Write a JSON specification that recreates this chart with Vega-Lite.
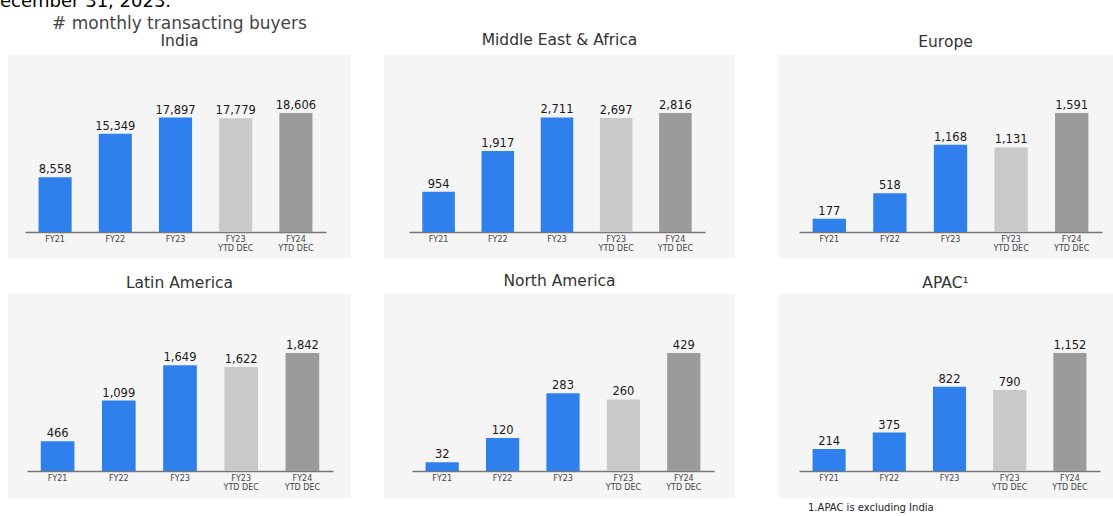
{
  "$schema": "https://vega.github.io/schema/vega-lite/v6.json",
  "background": "white",
  "padding": {"left": 0, "top": -8, "right": 0, "bottom": 0},
  "title": {"text": "ecember 31, 2023.", "anchor": "start", "dx": -8, "fontSize": 18, "fontWeight": "normal", "font": "DejaVu Sans", "color": "#000000", "offset": 4, "frame": "bounds"},
  "datasets": {
    "buyers": [
      {"region": "India", "period": "FY21", "buyers": 8558},
      {"region": "India", "period": "FY22", "buyers": 15349},
      {"region": "India", "period": "FY23", "buyers": 17897},
      {"region": "India", "period": "FY23 YTD DEC", "buyers": 17779},
      {"region": "India", "period": "FY24 YTD DEC", "buyers": 18606},
      {"region": "Middle East & Africa", "period": "FY21", "buyers": 954},
      {"region": "Middle East & Africa", "period": "FY22", "buyers": 1917},
      {"region": "Middle East & Africa", "period": "FY23", "buyers": 2711},
      {"region": "Middle East & Africa", "period": "FY23 YTD DEC", "buyers": 2697},
      {"region": "Middle East & Africa", "period": "FY24 YTD DEC", "buyers": 2816},
      {"region": "Europe", "period": "FY21", "buyers": 177},
      {"region": "Europe", "period": "FY22", "buyers": 518},
      {"region": "Europe", "period": "FY23", "buyers": 1168},
      {"region": "Europe", "period": "FY23 YTD DEC", "buyers": 1131},
      {"region": "Europe", "period": "FY24 YTD DEC", "buyers": 1591},
      {"region": "Latin America", "period": "FY21", "buyers": 466},
      {"region": "Latin America", "period": "FY22", "buyers": 1099},
      {"region": "Latin America", "period": "FY23", "buyers": 1649},
      {"region": "Latin America", "period": "FY23 YTD DEC", "buyers": 1622},
      {"region": "Latin America", "period": "FY24 YTD DEC", "buyers": 1842},
      {"region": "North America", "period": "FY21", "buyers": 32},
      {"region": "North America", "period": "FY22", "buyers": 120},
      {"region": "North America", "period": "FY23", "buyers": 283},
      {"region": "North America", "period": "FY23 YTD DEC", "buyers": 260},
      {"region": "North America", "period": "FY24 YTD DEC", "buyers": 429},
      {"region": "APAC", "period": "FY21", "buyers": 214},
      {"region": "APAC", "period": "FY22", "buyers": 375},
      {"region": "APAC", "period": "FY23", "buyers": 822},
      {"region": "APAC", "period": "FY23 YTD DEC", "buyers": 790},
      {"region": "APAC", "period": "FY24 YTD DEC", "buyers": 1152}
    ]
  },
  "spacing": 15,
  "vconcat": [
    {
      "bounds": "flush",
      "spacing": 33,
      "hconcat": [
        {
          "width": 343, "height": 203,
          "title": {"text": "# monthly transacting buyers", "subtitle": "India", "fontSize": 17, "color": "#444444", "subtitleFont": "DejaVu Sans", "subtitleFontSize": 15.5, "subtitleColor": "#333333", "subtitlePadding": 1, "offset": 5},
          "data": {"name": "buyers"},
          "transform": [{"filter": "datum.region === 'India'"}],
          "encoding": {
            "x": {"field": "period", "type": "nominal", "sort": ["FY21", "FY22", "FY23", "FY23 YTD DEC", "FY24 YTD DEC"], "scale": {"range": [17, 318], "paddingInner": 0.45, "paddingOuter": 0.225}, "axis": {"offset": -26}},
            "y": {"field": "buyers", "type": "quantitative", "scale": {"domain": [-4065, 27674], "nice": false, "zero": false}, "axis": null}
          },
          "layer": [
            {"mark": {"type": "bar"}, "encoding": {"y2": {"datum": 0}, "color": {"field": "period", "type": "nominal", "scale": {"domain": ["FY21", "FY22", "FY23", "FY23 YTD DEC", "FY24 YTD DEC"], "range": ["#2f80ed", "#2f80ed", "#2f80ed", "#c9c9c9", "#9b9b9b"]}, "legend": null}}},
            {"mark": {"type": "text", "baseline": "bottom", "dy": -2}, "encoding": {"text": {"field": "buyers", "type": "quantitative", "format": ","}}}
          ]
        },
        {
          "bounds": "flush",
          "spacing": 43,
          "hconcat": [
            {
              "width": 351, "height": 203,
              "title": {"text": "Middle East & Africa", "offset": 7},
              "data": {"name": "buyers"},
              "transform": [{"filter": "datum.region === 'Middle East & Africa'"}],
              "encoding": {
                "x": {"field": "period", "type": "nominal", "sort": ["FY21", "FY22", "FY23", "FY23 YTD DEC", "FY24 YTD DEC"], "scale": {"range": [25, 321], "paddingInner": 0.45, "paddingOuter": 0.225}, "axis": {"offset": -26}},
                "y": {"field": "buyers", "type": "quantitative", "scale": {"domain": [-615, 4188], "nice": false, "zero": false}, "axis": null}
              },
              "layer": [
                {"mark": {"type": "bar"}, "encoding": {"y2": {"datum": 0}, "color": {"field": "period", "type": "nominal", "scale": {"domain": ["FY21", "FY22", "FY23", "FY23 YTD DEC", "FY24 YTD DEC"], "range": ["#2f80ed", "#2f80ed", "#2f80ed", "#c9c9c9", "#9b9b9b"]}, "legend": null}}},
                {"mark": {"type": "text", "baseline": "bottom", "dy": -2}, "encoding": {"text": {"field": "buyers", "type": "quantitative", "format": ","}}}
              ]
            },
            {
              "width": 335, "height": 203,
              "title": {"text": "Europe", "offset": 5},
              "data": {"name": "buyers"},
              "transform": [{"filter": "datum.region === 'Europe'"}],
              "encoding": {
                "x": {"field": "period", "type": "nominal", "sort": ["FY21", "FY22", "FY23", "FY23 YTD DEC", "FY24 YTD DEC"], "scale": {"range": [21, 324], "paddingInner": 0.45, "paddingOuter": 0.225}, "axis": {"offset": -26}},
                "y": {"field": "buyers", "type": "quantitative", "scale": {"domain": [-347.6, 2366.5], "nice": false, "zero": false}, "axis": null}
              },
              "layer": [
                {"mark": {"type": "bar"}, "encoding": {"y2": {"datum": 0}, "color": {"field": "period", "type": "nominal", "scale": {"domain": ["FY21", "FY22", "FY23", "FY23 YTD DEC", "FY24 YTD DEC"], "range": ["#2f80ed", "#2f80ed", "#2f80ed", "#c9c9c9", "#9b9b9b"]}, "legend": null}}},
                {"mark": {"type": "text", "baseline": "bottom", "dy": -2}, "encoding": {"text": {"field": "buyers", "type": "quantitative", "format": ","}}}
              ]
            }
          ]
        }
      ]
    },
    {
      "bounds": "flush",
      "spacing": 33,
      "hconcat": [
        {
          "width": 343, "height": 204,
          "title": {"text": "Latin America", "offset": 3},
          "data": {"name": "buyers"},
          "transform": [{"filter": "datum.region === 'Latin America'"}],
          "encoding": {
            "x": {"field": "period", "type": "nominal", "sort": ["FY21", "FY22", "FY23", "FY23 YTD DEC", "FY24 YTD DEC"], "scale": {"range": [19, 325], "paddingInner": 0.45, "paddingOuter": 0.225}, "axis": {"offset": -27}},
            "y": {"field": "buyers", "type": "quantitative", "scale": {"domain": [-421.5, 2763], "nice": false, "zero": false}, "axis": null}
          },
          "layer": [
            {"mark": {"type": "bar"}, "encoding": {"y2": {"datum": 0}, "color": {"field": "period", "type": "nominal", "scale": {"domain": ["FY21", "FY22", "FY23", "FY23 YTD DEC", "FY24 YTD DEC"], "range": ["#2f80ed", "#2f80ed", "#2f80ed", "#c9c9c9", "#9b9b9b"]}, "legend": null}}},
            {"mark": {"type": "text", "baseline": "bottom", "dy": -2}, "encoding": {"text": {"field": "buyers", "type": "quantitative", "format": ","}}}
          ]
        },
        {
          "bounds": "flush",
          "spacing": 43,
          "hconcat": [
            {
              "width": 351, "height": 204,
              "title": {"text": "North America", "offset": 5},
              "data": {"name": "buyers"},
              "transform": [{"filter": "datum.region === 'North America'"}],
              "encoding": {
                "x": {"field": "period", "type": "nominal", "sort": ["FY21", "FY22", "FY23", "FY23 YTD DEC", "FY24 YTD DEC"], "scale": {"range": [28, 330], "paddingInner": 0.45, "paddingOuter": 0.225}, "axis": {"offset": -27}},
                "y": {"field": "buyers", "type": "quantitative", "scale": {"domain": [-98.2, 643.5], "nice": false, "zero": false}, "axis": null}
              },
              "layer": [
                {"mark": {"type": "bar"}, "encoding": {"y2": {"datum": 0}, "color": {"field": "period", "type": "nominal", "scale": {"domain": ["FY21", "FY22", "FY23", "FY23 YTD DEC", "FY24 YTD DEC"], "range": ["#2f80ed", "#2f80ed", "#2f80ed", "#c9c9c9", "#9b9b9b"]}, "legend": null}}},
                {"mark": {"type": "text", "baseline": "bottom", "dy": -2}, "encoding": {"text": {"field": "buyers", "type": "quantitative", "format": ","}}}
              ]
            },
            {
              "title": {"text": "1.APAC is excluding India", "orient": "bottom", "anchor": "start", "dx": 30, "offset": 5, "fontSize": 10, "color": "#222222", "frame": "bounds"},
              "bounds": "flush",
              "vconcat": [
                {
                  "width": 335, "height": 204,
                  "title": {"text": "APAC¹", "offset": 3},
                  "data": {"name": "buyers"},
                  "transform": [{"filter": "datum.region === 'APAC'"}],
                  "encoding": {
                    "x": {"field": "period", "type": "nominal", "sort": ["FY21", "FY22", "FY23", "FY23 YTD DEC", "FY24 YTD DEC"], "scale": {"range": [21, 322], "paddingInner": 0.45, "paddingOuter": 0.225}, "axis": {"offset": -27}},
                    "y": {"field": "buyers", "type": "quantitative", "scale": {"domain": [-263.6, 1728], "nice": false, "zero": false}, "axis": null}
                  },
                  "layer": [
                    {"mark": {"type": "bar"}, "encoding": {"y2": {"datum": 0}, "color": {"field": "period", "type": "nominal", "scale": {"domain": ["FY21", "FY22", "FY23", "FY23 YTD DEC", "FY24 YTD DEC"], "range": ["#2f80ed", "#2f80ed", "#2f80ed", "#c9c9c9", "#9b9b9b"]}, "legend": null}}},
                    {"mark": {"type": "text", "baseline": "bottom", "dy": -2}, "encoding": {"text": {"field": "buyers", "type": "quantitative", "format": ","}}}
                  ]
                }
              ]
            }
          ]
        }
      ]
    }
  ],
  "config": {
    "font": "DejaVu Sans",
    "view": {"fill": "#f5f5f5", "stroke": null},
    "axisX": {
      "title": null,
      "labelAngle": 0,
      "ticks": false,
      "domainColor": "#777777",
      "domainWidth": 1.5,
      "labelFont": "DejaVu Sans",
      "labelFontSize": 8,
      "labelColor": "#444444",
      "labelPadding": 3,
      "labelLineHeight": 9,
      "labelExpr": "indexof(datum.label, ' ') > 0 ? [substring(datum.label, 0, 4), substring(datum.label, 5)] : datum.label"
    },
    "title": {"font": "DejaVu Sans", "fontSize": 15.5, "fontWeight": "normal", "color": "#333333", "offset": 6},
    "text": {"font": "DejaVu Sans", "fontSize": 11.5, "color": "#1a1a1a"}
  }
}
